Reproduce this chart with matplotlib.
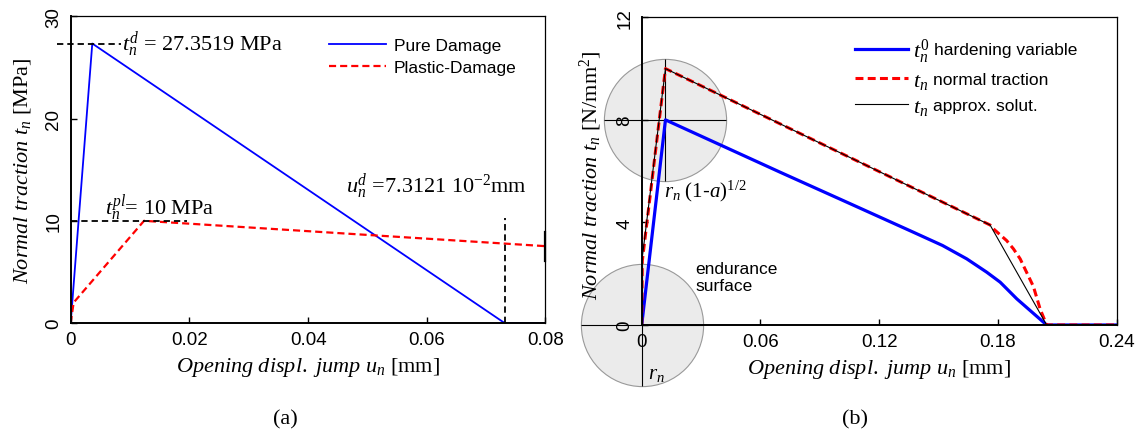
import matplotlib
matplotlib.use("Agg")
import matplotlib.pyplot as plt
from matplotlib.transforms import IdentityTransform

plt.rcParams["font.family"] = ["Liberation Sans", "DejaVu Sans"]
plt.rcParams["mathtext.fontset"] = "custom"
plt.rcParams["mathtext.rm"] = "Liberation Serif"
plt.rcParams["mathtext.it"] = "Liberation Serif:italic"
plt.rcParams["mathtext.bf"] = "Liberation Serif:bold"

# (a) pure damage vs plastic-damage law
u_pure = [0, 0.00364, 0.0731, 0.08]
t_pure = [0, 27.3519, 0, 0]
u_plast = [0, 0.0005, 0.01236, 0.08]
t_plast = [0, 2.0, 10.0, 7.52]
td_peak = 27.3519
tpl_peak = 10.0
ud_final = 0.0731

# (b) hardening variable, normal traction and approximate solution
u_hard = [0, 0.012, 0.0699, 0.1036, 0.1372, 0.152, 0.1642, 0.1743, 0.1811,
          0.1895, 0.2046, 0.24]
t_hard = [0, 8.0, 5.96, 4.79, 3.62, 3.10, 2.58, 2.06, 1.67, 1.02, 0, 0]
u_trac = [0, 0.0003, 0.012, 0.176, 0.1777, 0.1844, 0.1878, 0.1912, 0.1979,
          0.2013, 0.2046, 0.24]
t_trac = [0, 2.5, 10.0, 3.9, 3.75, 3.29, 2.97, 2.58, 1.5, 0.62, 0, 0]
u_appr = [0, 0, 0.012, 0.176, 0.2046, 0.24]
t_appr = [0, 2.45, 10.0, 3.9, 0, 0]

serif = ["Liberation Serif", "DejaVu Serif"]
TICK_FS = 13.5
LAB_FS = 16

fig = plt.figure(figsize=(11.4, 4.35), dpi=100)
ax1 = fig.add_axes([0.0620, 0.2552, 0.4165, 0.7046])
ax2 = fig.add_axes([0.5629, 0.2506, 0.4167, 0.7073])


def style_axes(ax, xticks, yticks):
    ax.set_xticks(xticks)
    ax.set_yticks(yticks)
    ax.set_xticklabels([("%g" % v) for v in xticks])
    ax.tick_params(direction="in", length=4, width=1, labelsize=TICK_FS,
                   top=False, right=False)
    ax.tick_params(axis="x", pad=6)
    ax.tick_params(axis="y", pad=6, labelrotation=90)
    for lab in ax.get_yticklabels():
        lab.set_va("center")
    for s in ["left", "bottom"]:
        ax.spines[s].set_linewidth(1.4)
    for s in ["top", "right"]:
        ax.spines[s].set_linewidth(0.9)


# ---- panel (a)
ax1.plot(u_pure, t_pure, color="blue", lw=1.3, label="Pure Damage")
ax1.plot(u_plast, t_plast, color="red", lw=1.6, ls=(0, (3.2, 1.8)),
         label="Plastic-Damage")
ax1.plot([-0.0023, 0.0085], [td_peak, td_peak], color="black", lw=1.3,
         ls=(0, (3.5, 2.2)), clip_on=False)
ax1.plot([0, 0.0196], [tpl_peak, tpl_peak], color="black", lw=1.3,
         ls=(0, (3.5, 2.2)))
ax1.plot([ud_final, ud_final], [0, 10.3], color="black", lw=1.3,
         ls=(0, (3.5, 2.2)), clip_on=False)
ax1.plot([0.08, 0.08], [6.1, 8.9], color="black", lw=1.6, clip_on=False)

ax1.text(0.0087, td_peak, r"$t_n^d$ = %.4f MPa" % td_peak, fontsize=16,
         family=serif, va="center", ha="left")
ax1.text(0.0058, 11.3, r"$t_n^{pl}$= %g MPa" % tpl_peak, fontsize=16,
         family=serif, va="center", ha="left")
ax1.text(0.0464, 13.4, r"$u_n^d$ =7.3121 10$^{\mathrm{-2}}$mm", fontsize=16,
         family=serif, va="center", ha="left")

ax1.set_xlim(0, 0.08)
ax1.set_ylim(0, 30)
style_axes(ax1, [0, 0.02, 0.04, 0.06, 0.08], [0, 10, 20, 30])
ax1.set_xlabel(r"$Opening\ displ.\ jump\ u_n\ \mathrm{[mm]}$", fontsize=LAB_FS)
ax1.set_ylabel(r"$Normal\ traction\ t_n\ \mathrm{[MPa]}$", fontsize=LAB_FS)
ax1.xaxis.set_label_coords(0.5, -0.105)
ax1.yaxis.set_label_coords(-0.080, 0.5)
ax1.legend(loc="upper left", bbox_to_anchor=(0.543, 0.93), frameon=False,
           fontsize=12.5, handlelength=3.3, handletextpad=0.45,
           labelspacing=0.38, borderpad=0, borderaxespad=0)

# ---- panel (b)
circ = dict(marker="o", markersize=88, markerfacecolor="#ebebeb",
            markeredgecolor="#999999", markeredgewidth=0.8, ls="none",
            clip_on=False, zorder=0.5)
cross = dict(markersize=88, color="black", markeredgewidth=0.8, ls="none",
             clip_on=False, zorder=0.6)
ax2.plot([u_hard[1]], [t_hard[1]], **circ)
ax2.plot([u_hard[1]], [t_hard[1]], marker="_", **cross)
ax2.plot([u_hard[1]], [t_hard[1]], marker="|", **cross)
ax2.plot([0], [0], **circ)
ax2.plot([0], [0], marker="_", **cross)
ax2.plot([0], [0], marker="|", **cross)

h1, = ax2.plot(u_hard, t_hard, color="blue", lw=2.3, zorder=2)
h2, = ax2.plot(u_trac, t_trac, color="red", lw=2.2, ls=(0, (2.6, 1.4)),
               zorder=2.1)
h3, = ax2.plot(u_appr, t_appr, color="black", lw=0.8, zorder=2.2)

ax2.text(0.0112, 5.25, r"$r_n\ \mathrm{(1}$-$a\mathrm{)}^{\mathrm{1/2}}$",
         fontsize=15, va="center", ha="left")
ax2.text(0.0032, -1.9, r"$r_n$", fontsize=15, va="center", ha="left",
         clip_on=False)
ax2.text(0.027, 1.87, "endurance\nsurface", fontsize=12.5, va="center",
         ha="left", linespacing=1.1)

ax2.set_xlim(0, 0.24)
ax2.set_ylim(0, 12)
style_axes(ax2, [0, 0.06, 0.12, 0.18, 0.24], [0, 4, 8, 12])
ax2.set_xlabel(r"$Opening\ displ.\ jump\ u_n\ \mathrm{[mm]}$", fontsize=LAB_FS)
ax2.set_ylabel(r"$Normal\ traction\ t_n\ \mathrm{[N/mm^2]}$", fontsize=LAB_FS)
ax2.xaxis.set_label_coords(0.5, -0.105)
ax2.yaxis.set_label_coords(-0.0795, 0.49)

# legend: serif symbol from the legend itself, sans description next to it
sym_labels = [r"$t_n^0$", r"$t_n$", r"$t_n$"]
descr = ["hardening variable", "normal traction", "approx. solut."]
leg = ax2.legend([h1, h2, h3], sym_labels, loc="upper left",
                 bbox_to_anchor=(0.449, 0.936), frameon=False, fontsize=16,
                 handlelength=2.4, handletextpad=0.2, labelspacing=0.22,
                 borderpad=0, borderaxespad=0)

fig.text(285 / 1140, 1 - 420 / 435, "(a)", fontsize=16, family=serif,
         ha="center", va="center")
fig.text(855 / 1140, 1 - 420 / 435, "(b)", fontsize=16, family=serif,
         ha="center", va="center")

fig.canvas.draw()
for txt, words in zip(leg.get_texts(), descr):
    bb = txt.get_window_extent()
    fig.text(bb.x1 + 5, bb.y0 + 0.55 * bb.height, words, fontsize=12.5,
             va="center", ha="left", transform=IdentityTransform())

fig.savefig("out.png", dpi=100)
